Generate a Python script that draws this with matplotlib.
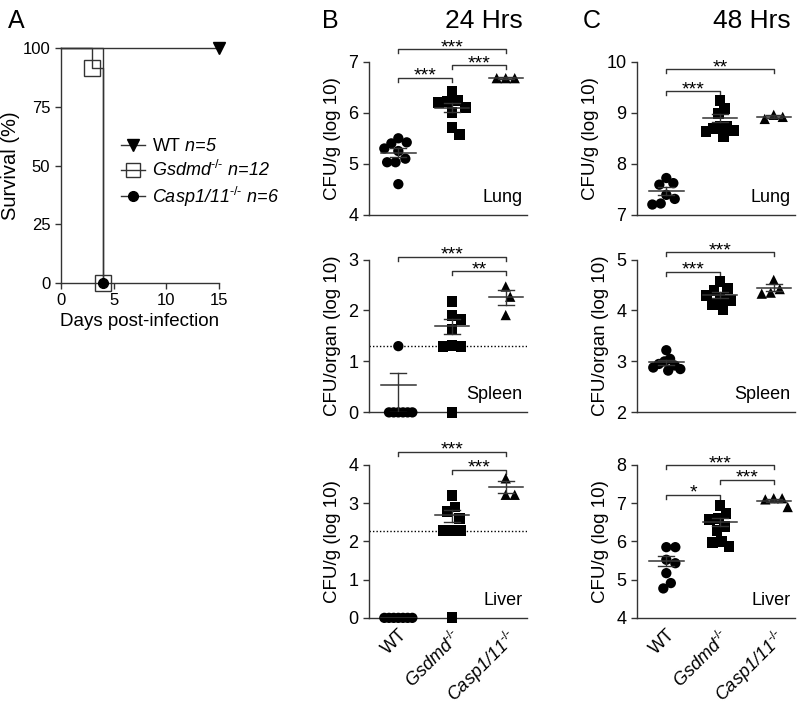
import numpy as np
import matplotlib
matplotlib.use("Agg")
import matplotlib.pyplot as plt
from matplotlib.lines import Line2D

plt.rcParams['font.family'] = ['Liberation Sans', 'DejaVu Sans']
plt.rcParams['mathtext.fontset'] = 'custom'
plt.rcParams['mathtext.rm'] = 'Liberation Sans'
plt.rcParams['mathtext.it'] = 'Liberation Sans:italic'

# ---- panel A: survival ----
wt_days = [0, 15]
wt_surv = [100, 100]
gs_days = [0, 3, 4]
gs_surv = [100, 91.7, 0]
ca_days = [0, 4]
ca_surv = [100, 0]
# labels are drawn in italic; \mathrm parts stay upright
surv_labels = [r'$\mathrm{WT}$ n=5',
               r'Gsdmd$^{\text{-/-}}$ n=12',
               r'Casp1/11$^{\text{-/-}}$ n=6']

# ---- panels B / C: CFU scatter ----
groups = ['WT', r'Gsdmd$^{\text{-/-}}$', r'Casp1/11$^{\text{-/-}}$']
organs = ['Lung', 'Spleen', 'Liver']
ylabels = ['CFU/g (log 10)', 'CFU/organ (log 10)', 'CFU/g (log 10)']

b_lung = [[5.50, 5.42, 5.40, 5.30, 5.25, 5.10, 5.03, 5.03, 4.60],
          [6.42, 6.25, 6.22, 6.20, 6.10, 6.00, 5.72, 5.57],
          [6.68, 6.68, 6.68]]
b_spleen = [[1.30, 0, 0, 0, 0, 0, 0],
            [2.17, 1.90, 1.83, 1.63, 1.32, 1.30, 1.30, 0],
            [2.47, 2.27, 1.91]]
b_liver = [[0, 0, 0, 0, 0, 0, 0],
           [3.20, 2.90, 2.78, 2.61, 2.28, 2.28, 2.28, 0],
           [3.65, 3.22, 3.22]]
c_lung = [[7.72, 7.62, 7.59, 7.39, 7.31, 7.22, 7.20],
          [9.25, 9.09, 8.99, 8.74, 8.74, 8.69, 8.66, 8.63, 8.53],
          [8.96, 8.92, 8.88]]
c_spleen = [[3.22, 3.05, 3.00, 2.95, 2.92, 2.88, 2.85, 2.82],
            [4.56, 4.43, 4.40, 4.30, 4.24, 4.20, 4.11, 4.02],
            [4.60, 4.42, 4.35, 4.33]]
c_liver = [[5.85, 5.85, 5.52, 5.43, 5.17, 4.91, 4.77],
           [6.93, 6.72, 6.61, 6.58, 6.39, 6.28, 6.00, 5.96, 5.87],
           [7.13, 7.13, 7.10, 6.90]]

# mean and error bar ends
b_means = [[5.22, 6.10, 6.68], [0.54, 1.70, 2.27], [0.0, 2.70, 3.43]]
b_err_lo = [[0.08, 0.09, 0.02], [0.54, 0.17, 0.16], [0.0, 0.20, 0.17]]
b_err_hi = [[0.08, 0.09, 0.02], [0.24, 0.13, 0.13], [0.0, 0.13, 0.14]]
c_means = [[7.46, 8.89, 8.92], [2.98, 4.30, 4.45], [5.50, 6.50, 7.07]]
c_err_lo = [[0.08, 0.08, 0.03], [0.05, 0.06, 0.06], [0.15, 0.10, 0.05]]
c_err_hi = [[0.08, 0.08, 0.03], [0.05, 0.06, 0.06], [0.13, 0.10, 0.05]]

b_ylims = [(4, 7), (0, 3), (0, 4)]
c_ylims = [(7, 10), (2, 5), (4, 8)]
b_lod = [None, 1.30, 2.28]
c_lod = [None, None, None]

b_sig = [[(0, 1, 6.69, '***'), (1, 2, 6.93, '***'), (0, 2, 7.25, '***')],
         [(1, 2, 2.77, '**'), (0, 2, 3.05, '***')],
         [(1, 2, 3.87, '***'), (0, 2, 4.35, '***')]]
c_sig = [[(0, 1, 9.42, '***'), (0, 2, 9.86, '**')],
         [(0, 1, 4.76, '***'), (0, 2, 5.14, '***')],
         [(0, 1, 7.22, '*'), (1, 2, 7.61, '***'), (0, 2, 8.00, '***')]]

LC = '#333333'
markers = ['o', 's', '^']


def style_axes(ax, size):
    for s in ['top', 'right']:
        ax.spines[s].set_visible(False)
    for s in ['left', 'bottom']:
        ax.spines[s].set_color(LC)
        ax.spines[s].set_linewidth(1.0)
    ax.tick_params(direction='out', length=4, width=1, color=LC, labelsize=size)


def swarm(vals, px_y, dx_min=8.0, dy_min=12.0, step=1.5, cap=14.0):
    # simple beeswarm: offsets in pixels, squeezed if too wide
    order = np.argsort(vals)[::-1]
    placed = []
    offs = np.zeros(len(vals))
    for i in order:
        y = vals[i] * px_y
        k = 0
        while True:
            m = (k + 1) // 2 * (1 if k % 2 else -1)
            x = m * step
            if all(((x - px) / dx_min) ** 2 + ((y - py) / dy_min) ** 2 >= 1
                   for px, py in placed):
                break
            k += 1
        placed.append((x, y))
        offs[i] = x
    widest = np.abs(offs).max()
    if widest > cap:
        offs = offs * cap / widest
    return offs


def cfu_panel(ax, data, means, elo, ehi, ylim, lod, sig, organ, ylabel, bottom):
    style_axes(ax, 13)
    ax.set_xlim(-0.55, 2.4)
    ax.set_ylim(*ylim)
    ax.set_yticks(np.arange(ylim[0], ylim[1] + 1))
    ax.set_ylabel(ylabel, fontsize=13.5, labelpad=5)
    bbox = ax.get_position()
    px_x = bbox.width * 800 / 2.95
    px_y = bbox.height * 711 / (ylim[1] - ylim[0])
    if lod is not None:
        ax.axhline(lod, color='k', ls=(0, (1, 1.5)), lw=1.0, zorder=1)
    for i, vals in enumerate(data):
        vals = np.array(vals)
        offs = swarm(vals, px_y) / px_x
        ax.scatter(i + offs, vals, marker=markers[i], s=55 if i != 1 else 62,
                   color='k', edgecolors='none', zorder=3, clip_on=False)
        m = means[i]
        ax.plot([i - 0.32, i + 0.32], [m, m], color=LC, lw=1.1, zorder=4)
        if elo[i] > 0 or ehi[i] > 0:
            ax.plot([i, i], [m - elo[i], m + ehi[i]], color=LC, lw=1.0, zorder=4)
            for yy in [m - elo[i], m + ehi[i]]:
                ax.plot([i - 0.15, i + 0.15], [yy, yy], color=LC, lw=1.0, zorder=4)
    drop = 4 / px_y
    for i, j, y, lab in sig:
        ax.plot([i, i, j, j], [y - drop, y, y, y - drop], color=LC, lw=1.0,
                clip_on=False)
        ax.text((i + j) / 2, y - 3 / px_y, lab, ha='center', va='baseline',
                fontsize=14)
    ax.text(0.97, 0.06, organ, transform=ax.transAxes, ha='right', va='bottom',
            fontsize=13)
    ax.set_xticks([0, 1, 2])
    if bottom:
        ax.set_xticklabels(groups, rotation=45, ha='right', va='top',
                           rotation_mode='anchor', fontsize=13)
        for lbl in ax.get_xticklabels()[1:]:
            lbl.set_fontstyle('italic')
        ax.tick_params(axis='x', length=0, pad=6)
    else:
        ax.set_xticklabels([])
        ax.tick_params(axis='x', length=0)


fig = plt.figure(figsize=(8, 7.11), dpi=100)

# panel A
axA = fig.add_axes([0.076, 0.602, 0.198, 0.330])
style_axes(axA, 12)
axA.set_xlim(0, 15)
axA.set_ylim(0, 100)
axA.set_xticks([0, 5, 10, 15])
axA.set_yticks([0, 25, 50, 75, 100])
axA.step(wt_days, wt_surv, where='post', color=LC, lw=1.0, clip_on=False)
axA.plot(wt_days[1:], wt_surv[1:], 'v', color='k', ms=8, clip_on=False)
axA.step(gs_days, gs_surv, where='post', color=LC, lw=1.0, clip_on=False)
axA.step(ca_days, ca_surv, where='post', color=LC, lw=1.0, clip_on=False)
axA.plot(gs_days[1:], gs_surv[1:], 's', mfc='none', mec=LC, mew=1.0, ms=12,
         clip_on=False, zorder=4)
axA.plot(ca_days[1:], ca_surv[1:], 'o', color='k', ms=7, clip_on=False, zorder=5)
axA.set_ylabel('Survival (%)', fontsize=14.5)
axA.yaxis.set_label_coords(-0.255, 0.5)
axA.set_xlabel('Days post-infection', fontsize=13.5, labelpad=3)
handles = [Line2D([0], [0], color=LC, lw=1, marker='v', mfc='k', mec='k', ms=8),
           Line2D([0], [0], color=LC, lw=1, marker='s', mfc='none', mec=LC, ms=10),
           Line2D([0], [0], color=LC, lw=1, marker='o', mfc='k', mec='k', ms=7)]
leg = fig.legend(handles, surv_labels, loc='upper left',
                 bbox_to_anchor=(0.140, 0.818), frameon=False, fontsize=13,
                 handlelength=1.3, handletextpad=0.4, labelspacing=0.25,
                 borderpad=0)
for t in leg.get_texts():
    t.set_fontstyle('italic')

# panels B and C
bottoms = [0.698, 0.420, 0.131]
b_data = [b_lung, b_spleen, b_liver]
c_data = [c_lung, c_spleen, c_liver]
for r in range(3):
    axB = fig.add_axes([0.461, bottoms[r], 0.198, 0.215])
    cfu_panel(axB, b_data[r], b_means[r], b_err_lo[r], b_err_hi[r], b_ylims[r],
              b_lod[r], b_sig[r], organs[r], ylabels[r], r == 2)
    axC = fig.add_axes([0.796, bottoms[r], 0.198, 0.215])
    cfu_panel(axC, c_data[r], c_means[r], c_err_lo[r], c_err_hi[r], c_ylims[r],
              c_lod[r], c_sig[r], organs[r], ylabels[r], r == 2)

fig.text(0.010, 0.988, 'A', fontsize=18, va='top')
fig.text(0.402, 0.988, 'B', fontsize=18, va='top')
fig.text(0.728, 0.988, 'C', fontsize=18, va='top')
fig.text(0.605, 0.988, '24 Hrs', fontsize=19, va='top', ha='center')
fig.text(0.940, 0.988, '48 Hrs', fontsize=19, va='top', ha='center')

fig.savefig('out.png', dpi=100)
